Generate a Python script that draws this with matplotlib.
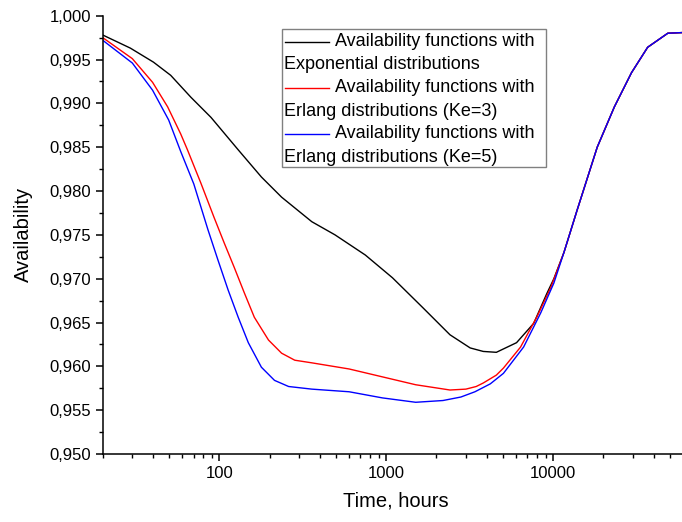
import matplotlib
matplotlib.use("Agg")
import matplotlib.pyplot as plt
from matplotlib.ticker import FixedLocator, FuncFormatter, NullFormatter
from matplotlib.patches import Rectangle
from matplotlib.lines import Line2D

plt.rcParams['font.family'] = ['Liberation Sans', 'DejaVu Sans']

# time in hours
t_exp = [20, 29.3, 40.3, 51.1, 67.5, 89.1, 129.7, 178.6, 236, 358, 493, 749,
         1090, 1655, 2409, 3183, 3813, 4568, 6036, 7645, 9162, 10100, 11610,
         13910, 18370, 23270, 29480, 36840, 48640, 63400]
a_exp = [0.9978, 0.9963, 0.9947, 0.9932, 0.9907, 0.9884, 0.9847, 0.9816, 0.9793,
         0.9765, 0.9750, 0.9727, 0.9701, 0.9667, 0.9636, 0.9621, 0.9617, 0.9616,
         0.9627, 0.9649, 0.9683, 0.9700, 0.9730, 0.9778, 0.9850, 0.9896, 0.9935,
         0.9964, 0.9980, 0.9981]

t_k3 = [20, 30.1, 39.8, 49.0, 58.7, 64.4, 77.5, 92.9, 106.8, 122.7, 141.0, 162,
        197, 236, 283, 358, 599, 948, 1501, 2409, 3000, 3459, 3813, 4568, 5036,
        6378, 7970, 9685, 11610, 13910, 18370, 23270, 29480, 36840, 48640, 63400]
a_k3 = [0.9975, 0.9951, 0.9924, 0.9896, 0.9865, 0.9847, 0.9809, 0.9770, 0.9741,
        0.9713, 0.9684, 0.9656, 0.9630, 0.9615, 0.9607, 0.9604, 0.9597, 0.9588,
        0.9579, 0.9573, 0.9574, 0.9577, 0.9581, 0.9590, 0.9598, 0.9622, 0.9656,
        0.9690, 0.9730, 0.9778, 0.9850, 0.9896, 0.9935, 0.9964, 0.9980, 0.9981]

t_k5 = [20, 30.1, 39.8, 49.7, 58.7, 70.3, 85.4, 98.2, 112.9, 129.7, 149.1, 178.6,
        214, 260, 358, 599, 948, 1501, 2186, 2800, 3400, 4200, 5036, 6652, 8427,
        10100, 11610, 13910, 18370, 23270, 29480, 36840, 48640, 63400]
a_k5 = [0.9972, 0.9946, 0.9915, 0.9881, 0.9845, 0.9808, 0.9756, 0.9721, 0.9687,
        0.9656, 0.9627, 0.9599, 0.9584, 0.9577, 0.9574, 0.9571, 0.9564, 0.9559,
        0.9561, 0.9565, 0.9571, 0.9580, 0.9592, 0.9622, 0.9661, 0.9695, 0.9730,
        0.9778, 0.9850, 0.9896, 0.9935, 0.9964, 0.9980, 0.9981]

labels = ["Availability functions with", "Exponential distributions",
          "Availability functions with", "Erlang distributions (Ke=3)",
          "Availability functions with", "Erlang distributions (Ke=5)"]
colors = ["black", "#ff0000", "#0000ff"]

W, H = 682, 522
fig = plt.figure(figsize=(W / 100, H / 100), dpi=100)
ax = fig.add_axes([102.7 / W, 1 - 454 / H, (W - 102.7) / W + 0.01, (454 - 15.7) / H])

ax.plot(t_exp, a_exp, color=colors[0], lw=1.0)
ax.plot(t_k3, a_k3, color=colors[1], lw=1.0)
ax.plot(t_k5, a_k5, color=colors[2], lw=1.0)

ax.set_xscale("log")
ax.set_xlim(20, 65000)
ax.set_ylim(0.950, 1.000)

ax.xaxis.set_major_locator(FixedLocator([100, 1000, 10000]))
ax.xaxis.set_major_formatter(FuncFormatter(lambda v, p: "%d" % v))
minors = [m * 10 ** e for e in range(1, 5) for m in range(2, 10)]
ax.xaxis.set_minor_locator(FixedLocator(minors))
ax.xaxis.set_minor_formatter(NullFormatter())

ax.set_yticks([0.950 + 0.005 * i for i in range(11)])
ax.set_yticks([0.9525 + 0.005 * i for i in range(10)], minor=True)
ax.yaxis.set_major_formatter(FuncFormatter(lambda v, p: ("%.3f" % v).replace(".", ",")))

for s in ["top", "right"]:
    ax.spines[s].set_visible(False)
for s in ["left", "bottom"]:
    ax.spines[s].set_linewidth(1.1)
ax.tick_params(which="major", direction="out", length=5, width=1.1, labelsize=12)
ax.tick_params(which="minor", direction="out", length=3, width=1.0)

ax.set_xlabel("Time, hours", fontsize=14.5, labelpad=8)
ax.set_ylabel("Availability", fontsize=14.5, labelpad=12)

# legend drawn by hand so the second line of each label wraps under the line sample
def fx(px):
    return px / W

def fy(py):
    return 1 - py / H

fig.patches.append(Rectangle((fx(282), fy(167)), fx(546) - fx(282), fy(29) - fy(167),
                             transform=fig.transFigure, fill=False, ec="#808080", lw=1.0))
rows = [42, 65, 88, 111, 134, 157]
for i, lab in enumerate(labels):
    if i % 2 == 0:
        fig.lines.append(Line2D([fx(285), fx(329)], [fy(rows[i]), fy(rows[i])],
                                transform=fig.transFigure, color=colors[i // 2], lw=1.0))
        fig.text(fx(335), fy(rows[i]), lab, fontsize=13, va="center", ha="left")
    else:
        fig.text(fx(284), fy(rows[i]), lab, fontsize=13, va="center", ha="left")

fig.savefig("out.png", dpi=100)
